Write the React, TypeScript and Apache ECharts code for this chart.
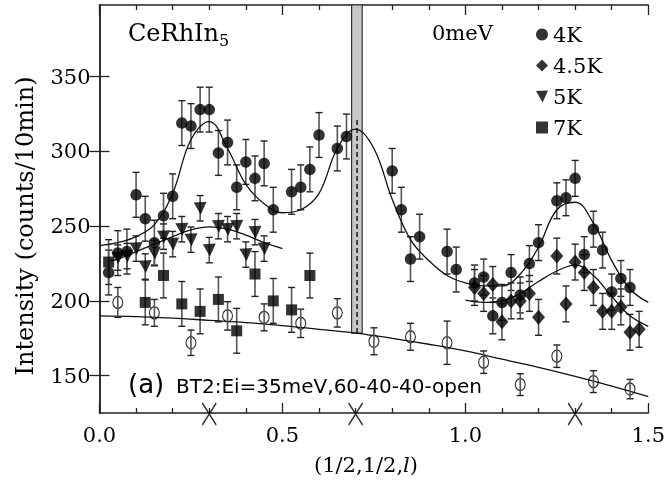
import React, { useEffect, useRef } from "react";
import * as echarts from "echarts";

// ---------- data ----------
const x4K = [0.025,0.05,0.075,0.1,0.125,0.15,0.175,0.2,0.225,0.25,0.275,0.3,0.325,0.35,0.375,0.4,0.425,0.45,0.475,0.525,0.55,0.575,0.6,0.65,0.675,0.8,0.825,0.85,0.875,0.95,0.975,1.025,1.05,1.075,1.1,1.125,1.15,1.175,1.2,1.25,1.275,1.3,1.325,1.35,1.375,1.4,1.425,1.45];
const y4K = [219,232,233,271,255,239,257,270,319,317,328,328,299,306,276,293,282,292,261,273,276,288,311,302,310,287,261,228,243,233,221,212,216,190,199,219,204,225,239,267,269,282,231,248,234,206,215,209];
const e4K = [15,15,15,15,15,15,15,15,15,15,15,15,15,15,15,15,15,15,15,15,15,15,15,15,15,15,15,15,15,15,15,12,12,12,12,12,12,12,12,12,12,12,12,12,12,12,12,12];

const x45K = [1.025,1.05,1.075,1.1,1.125,1.15,1.175,1.2,1.25,1.275,1.3,1.325,1.35,1.375,1.4,1.425,1.45,1.475];
const y45K = [209,205,211,186,200,200,205,189,230,198,226,219,209,193,193,196,179,181];
const e45K = [12,12,12,12,12,12,12,12,12,12,12,12,12,12,12,12,12,12];

const x5K = [0.05,0.075,0.1,0.125,0.15,0.175,0.2,0.225,0.25,0.275,0.3,0.325,0.35,0.375,0.4,0.425,0.45];
const y5K = [229,230,235,223,232,243,238,248,241,262,234,250,248,250,231,246,235];
const e5K = [8.5,8.5,8.5,8.5,8.5,8.5,8.5,8.5,8.5,8.5,8.5,8.5,8.5,8.5,8.5,8.5,8.5];

const x7K = [0.025,0.125,0.175,0.225,0.275,0.325,0.375,0.425,0.475,0.525,0.575];
const y7K = [226,199,217,198,193,201,180,218,200,194,217];
const e7K = [15,15,15,15,15,15,15,15,15,15,15];

const xOpen = [0.05,0.15,0.25,0.35,0.45,0.55,0.65,0.75,0.85,0.95,1.05,1.15,1.25,1.35,1.45];
const yOpen = [199,192,172,190,189,185,192,173,176,172,159,144,163,146,141];
const eOpen = [10,9,8.5,9.5,9,9.5,9.5,9,9,14.5,7.5,7.3,7.5,7.3,6.5];

// fitted curves
const cx4K = [0,0.05,0.1,0.15,0.2,0.25,0.3,0.35,0.4,0.45,0.5,0.55,0.6,0.65,0.7,0.75,0.8,0.85,0.9,0.95,1.0,1.05,1.1,1.15,1.2,1.25,1.3,1.35,1.4,1.45,1.5];
const cy4K = [237,239,243,251,272,308,320,302,278,265,259,261,272,302,315,302,268,241,227,217,212,210,210,218,236,261,266,252,227,208,199];
const cx5K = [0.03,0.05,0.1,0.15,0.2,0.25,0.3,0.35,0.4,0.45,0.5];
const cy5K = [227,228,233,238,243,247.5,249.5,248,244,239,235];
const cx45K = [1.0,1.05,1.1,1.15,1.2,1.25,1.3,1.35,1.4,1.45,1.5];
const cy45K = [200.5,199,200,205,213,220,224,217,203,190,183];
const cxOpen = [0,0.1,0.2,0.3,0.4,0.5,0.6,0.7,0.8,0.9,1.0,1.1,1.2,1.3,1.4,1.5];
const cyOpen = [190,189.5,188.5,187,185.5,183.5,181,178.5,175,171,166.5,161,155.5,149.5,143,136];

// annotations
const xMarks = [0.3, 0.7, 1.3];
const bandX = [0.689, 0.718];
const bandBottom = 178.5;
const dashX = 0.704;
const dashY = [178.5, 322];
const yTicks = [150, 200, 250, 300, 350];
const Y_MIN = 125;
const Y_MAX = 398;

const SERIF = "DejaVu Serif";
const SANS = "DejaVu Sans";
const TRI_DOWN = "path://M0 0.5L10 0L5.5 10Z";

function pairs(xs: number[], ys: number[]) {
  return xs.map((x, i) => [x, ys[i]]);
}

function errSeries(xs: number[], ys: number[], es: number[], z = 2) {
  return {
    type: "custom",
    silent: true,
    z,
    data: xs.map((x, i) => [x, ys[i] - es[i], ys[i] + es[i]]),
    encode: { x: 0, y: [1, 2] },
    renderItem: (_params: any, api: any) => {
      const x = api.value(0);
      const lo = api.coord([x, api.value(1)]);
      const hi = api.coord([x, api.value(2)]);
      const cap = 3.5;
      const st = { stroke: "#222", lineWidth: 1.4 };
      return {
        type: "group",
        children: [
          { type: "line", shape: { x1: lo[0], y1: lo[1], x2: hi[0], y2: hi[1] }, style: { stroke: "#555", lineWidth: 1.6 } },
          { type: "line", shape: { x1: lo[0] - cap, y1: lo[1], x2: lo[0] + cap, y2: lo[1] }, style: st },
          { type: "line", shape: { x1: hi[0] - cap, y1: hi[1], x2: hi[0] + cap, y2: hi[1] }, style: st },
        ],
      };
    },
  };
}

function curve(xs: number[], ys: number[]) {
  return {
    type: "line",
    data: pairs(xs, ys),
    showSymbol: false,
    symbol: "none",
    smooth: 0.4,
    silent: true,
    lineStyle: { color: "#111", width: 1.3 },
    z: 3,
  };
}

export default function App() {
  const ref = useRef<HTMLDivElement>(null);
  useEffect(() => {
    if (!ref.current) return;
    const chart = echarts.init(ref.current, undefined, { renderer: "svg" });
    const axisLine = { show: true, lineStyle: { color: "#222", width: 1.5 } };
    const tickStyle = { color: "#222", width: 1.3 };
    const xCommon = {
      type: "value",
      min: 0,
      max: 1.5,
      interval: 0.5,
      axisLine,
      axisTick: { show: true, inside: true, length: 10, lineStyle: tickStyle },
      minorTick: { show: true, splitNumber: 5, length: 5, lineStyle: tickStyle },
      splitLine: { show: false },
      minorSplitLine: { show: false },
    };
    const yCommon = {
      type: "value",
      min: Y_MIN,
      max: Y_MAX,
      axisLine,
      axisTick: { show: true, inside: true, length: 10, lineStyle: tickStyle, customValues: yTicks },
      splitLine: { show: false },
    };
    const option: any = {
      animation: false,
      grid: { left: 99.5, right: 17, top: 5, bottom: 68 },
      xAxis: [
        {
          ...xCommon,
          position: "bottom",
          axisLabel: {
            margin: 11,
            fontFamily: SERIF,
            fontSize: 21,
            color: "#000",
            formatter: (v: number) => v.toFixed(1),
          },
        },
        { ...xCommon, position: "top", axisLabel: { show: false } },
      ],
      yAxis: [
        {
          ...yCommon,
          position: "left",
          axisLabel: { margin: 9, fontFamily: SERIF, fontSize: 21, color: "#000", customValues: yTicks },
        },
        { ...yCommon, position: "right", axisLabel: { show: false } },
      ],
      legend: {
        orient: "vertical",
        left: 531,
        top: 19,
        itemWidth: 12,
        itemHeight: 12,
        itemGap: 10,
        textStyle: { fontFamily: SERIF, fontSize: 21, color: "#000" },
        data: [
          { name: "4K", icon: "circle" },
          { name: "4.5K", icon: "diamond" },
          { name: "5K", icon: TRI_DOWN },
          { name: "7K", icon: "rect" },
        ],
      },
      graphic: [
        {
          type: "text",
          x: 128,
          y: 33,
          style: {
            text: "CeRhIn{sub|5}",
            fontFamily: SERIF,
            fontSize: 24,
            fill: "#000",
            align: "left",
            verticalAlign: "middle",
            rich: { sub: { fontFamily: SERIF, fontSize: 16, padding: [14, 0, 0, 0] } },
          },
        },
        {
          type: "text",
          x: 432,
          y: 33,
          style: { text: "0meV", fontFamily: SERIF, fontSize: 21, fill: "#000", align: "left", verticalAlign: "middle" },
        },
        {
          type: "text",
          x: 128,
          y: 384,
          style: { text: "(a)", fontFamily: SANS, fontSize: 26, fill: "#000", align: "left", verticalAlign: "middle" },
        },
        {
          type: "text",
          x: 176,
          y: 386,
          style: { text: "BT2:Ei=35meV,60-40-40-open", fontFamily: SANS, fontSize: 20, fill: "#000", align: "left", verticalAlign: "middle" },
        },
        {
          type: "text",
          x: 366,
          y: 465,
          style: {
            text: "(1/2,1/2,{i|l})",
            fontFamily: SERIF,
            fontSize: 21,
            fill: "#000",
            align: "center",
            verticalAlign: "middle",
            rich: { i: { fontFamily: SERIF, fontStyle: "italic", fontSize: 21 } },
          },
        },
        {
          type: "text",
          x: 25,
          y: 226,
          rotation: Math.PI / 2,
          style: {
            text: "Intensity (counts/10min)",
            fontFamily: SERIF,
            fontSize: 24,
            fill: "#000",
            align: "center",
            verticalAlign: "middle",
          },
        },
      ],
      series: [
        // shaded band + dashed line
        {
          type: "line",
          data: pairs([dashX, dashX], dashY),
          showSymbol: false,
          symbol: "none",
          silent: true,
          z: 4,
          lineStyle: { color: "#000", width: 1.3, type: [5, 3] },
          markArea: {
            silent: true,
            itemStyle: { color: "#c8c8c8", borderColor: "#333", borderWidth: 1.2 },
            data: [[{ xAxis: bandX[0], yAxis: bandBottom }, { xAxis: bandX[1], yAxis: Y_MAX }]],
          },
        },
        curve(cx4K, cy4K),
        curve(cx5K, cy5K),
        curve(cx45K, cy45K),
        curve(cxOpen, cyOpen),
        errSeries(x4K, y4K, e4K),
        errSeries(x45K, y45K, e45K),
        errSeries(x5K, y5K, e5K),
        errSeries(x7K, y7K, e7K),
        errSeries(xOpen, yOpen, eOpen, 6),
        {
          name: "4K",
          type: "scatter",
          data: pairs(x4K, y4K),
          symbol: "circle",
          symbolSize: 11.5,
          itemStyle: { color: "#000" },
          z: 5,
        },
        {
          name: "4.5K",
          type: "scatter",
          data: pairs(x45K, y45K),
          symbol: "diamond",
          symbolSize: [13, 15],
          itemStyle: { color: "#000" },
          z: 5,
        },
        {
          name: "5K",
          type: "scatter",
          data: pairs(x5K, y5K),
          symbol: TRI_DOWN,
          symbolSize: 13,
          itemStyle: { color: "#000" },
          z: 5,
        },
        {
          name: "7K",
          type: "scatter",
          data: pairs(x7K, y7K),
          symbol: "rect",
          symbolSize: 11,
          itemStyle: { color: "#000" },
          z: 5,
        },
        {
          name: "open",
          type: "scatter",
          data: pairs(xOpen, yOpen),
          symbol: "circle",
          symbolSize: [10, 12],
          itemStyle: { color: "rgba(255,255,255,0)", borderColor: "#000", borderWidth: 1.2 },
          z: 5,
        },
        {
          name: "marks",
          type: "scatter",
          data: xMarks.map((x) => [x, Y_MIN]),
          symbol: "path://M0 0L14 22M14 0L0 22",
          symbolSize: [14, 22],
          symbolOffset: [0, 1],
          clip: false,
          silent: true,
          itemStyle: { color: "rgba(0,0,0,0)", borderColor: "#000", borderWidth: 1.5 },
          z: 6,
        },
      ],
    };
    chart.setOption(option);
    return () => chart.dispose();
  }, []);
  return <div ref={ref} style={{ position: "fixed", left: 0, top: 0, width: 668, height: 481 }} />;
}
